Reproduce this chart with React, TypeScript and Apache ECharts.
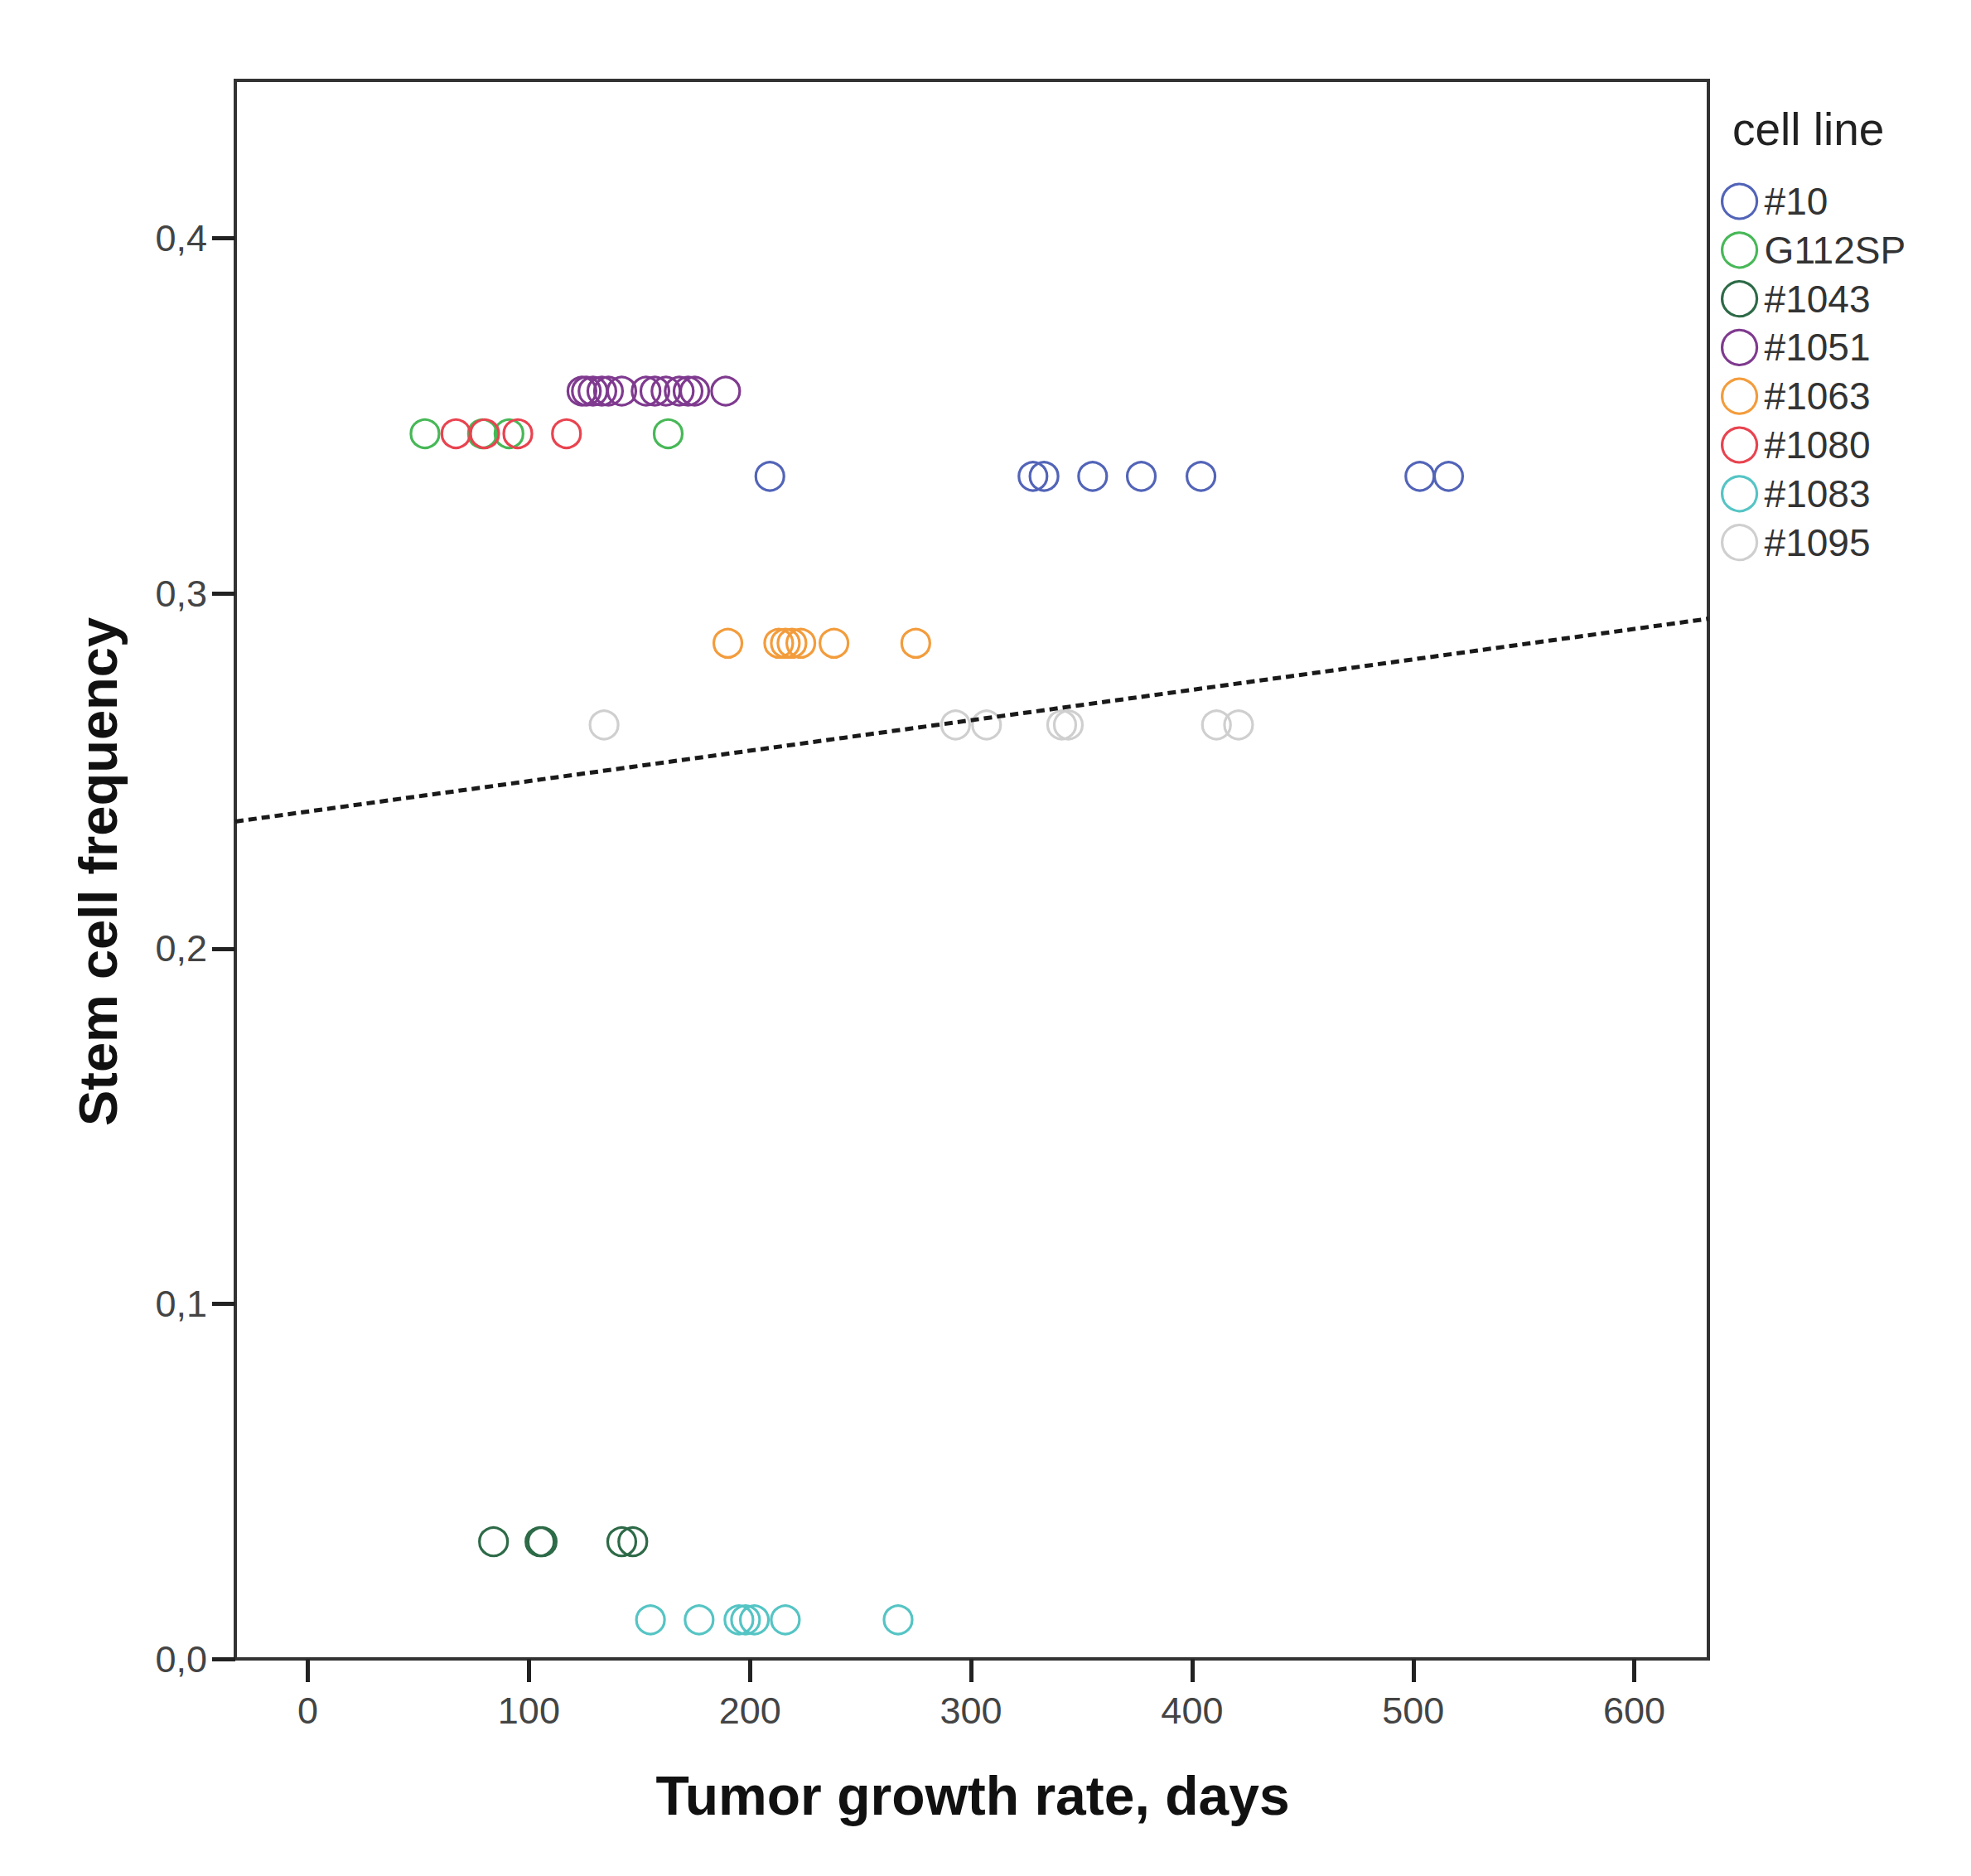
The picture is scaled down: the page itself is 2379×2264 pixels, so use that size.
import React, { useEffect, useRef } from "react";
import * as echarts from "echarts";

const cellLines = ["#10", "G112SP", "#1043", "#1051", "#1063", "#1080", "#1083", "#1095"];
const lineColors = ["#5264b8", "#47b857", "#2d6a47", "#7f3a8f", "#f39c3c", "#e9434f", "#55c4c4", "#cfcfcf"];
const stemFreq = [0.333, 0.345, 0.033, 0.357, 0.286, 0.345, 0.011, 0.263];

const growth10 = [209, 328, 333, 355, 377, 404, 503, 516];
const growthG112SP = [53, 79, 91, 163];
const growth1043 = [84, 105, 106, 142, 147];
const growth1051 = [124, 126, 129, 133, 136, 142, 153, 157, 162, 168, 172, 175, 189];
const growth1063 = [190, 213, 216, 219, 223, 238, 275];
const growth1080 = [67, 80, 95, 117];
const growth1083 = [155, 177, 195, 198, 202, 216, 267];
const growth1095 = [134, 293, 307, 341, 344, 411, 421];

const growthByLine = [growth10, growthG112SP, growth1043, growth1051, growth1063, growth1080, growth1083, growth1095];

const fitLineX = [-32.8, 633.5];
const fitLineY = [0.2358, 0.2929];

const xTicks = [0, 100, 200, 300, 400, 500, 600];
const yTicks = [0, 0.1, 0.2, 0.3, 0.4];

const FONT = "'Liberation Sans', Arial, Helvetica, sans-serif";

export default function App() {
  const ref = useRef<HTMLDivElement>(null);

  useEffect(() => {
    if (!ref.current) return;
    const chart = echarts.init(ref.current, undefined, { renderer: "svg" });

    const scatterSeries = cellLines.map((name, i) => ({
      name,
      type: "scatter",
      symbol: "circle",
      symbolSize: 34,
      data: growthByLine[i].map((g) => [g, stemFreq[i]]),
      itemStyle: {
        color: "rgba(0,0,0,0)",
        borderColor: lineColors[i],
        borderWidth: 3.2,
        opacity: 1,
      },
      emphasis: { disabled: true },
      silent: true,
      z: 2,
    }));

    const option = {
      animation: false,
      backgroundColor: "#ffffff",
      grid: {
        left: 284,
        top: 97,
        right: 317,
        bottom: 262,
        show: true,
        borderColor: "#333333",
        borderWidth: 4,
        backgroundColor: "transparent",
      },
      xAxis: {
        type: "value",
        min: -32.8,
        max: 633.5,
        axisLine: { show: true, onZero: false, lineStyle: { color: "#333333", width: 4 } },
        axisTick: {
          show: true,
          length: 28,
          customValues: xTicks,
          lineStyle: { color: "#222222", width: 5 },
        },
        axisLabel: {
          customValues: xTicks,
          margin: 40,
          fontSize: 45,
          color: "#444444",
          fontFamily: FONT,
        },
        splitLine: { show: false },
      },
      yAxis: {
        type: "value",
        min: 0,
        max: 0.4445,
        axisLine: { show: true, onZero: false, lineStyle: { color: "#333333", width: 4 } },
        axisTick: {
          show: true,
          length: 28,
          customValues: yTicks,
          lineStyle: { color: "#222222", width: 5 },
        },
        axisLabel: {
          customValues: yTicks,
          margin: 34,
          fontSize: 45,
          color: "#444444",
          fontFamily: FONT,
          formatter: (v: number) => v.toFixed(1).replace(".", ","),
        },
        splitLine: { show: false },
      },
      legend: {
        orient: "vertical",
        left: 2072,
        top: 215,
        itemWidth: 42,
        itemHeight: 42,
        itemGap: 12.8,
        icon: "circle",
        data: cellLines,
        selectedMode: false,
        itemStyle: { borderWidth: 3.2 },
        textStyle: {
          fontSize: 46,
          color: "#333333",
          fontFamily: FONT,
          padding: [0, 0, 0, 4],
        },
      },
      graphic: [
        {
          type: "text",
          left: 2091,
          top: 128,
          style: {
            text: "cell line",
            fontSize: 55,
            fill: "#222222",
            fontFamily: FONT,
          },
        },
        {
          type: "text",
          x: 1174,
          y: 2167,
          style: {
            text: "Tumor growth rate, days",
            fontSize: 66,
            fontWeight: "bold",
            fill: "#111111",
            fontFamily: FONT,
            align: "center",
            verticalAlign: "middle",
          },
        },
        {
          type: "text",
          x: 118,
          y: 1052,
          rotation: Math.PI / 2,
          style: {
            text: "Stem cell frequency",
            fontSize: 65,
            fontWeight: "bold",
            fill: "#111111",
            fontFamily: FONT,
            align: "center",
            verticalAlign: "middle",
          },
        },
      ],
      series: [
        ...scatterSeries,
        {
          name: "fit",
          type: "line",
          data: fitLineX.map((x, i) => [x, fitLineY[i]]),
          symbol: "none",
          silent: true,
          lineStyle: { type: [10, 6], width: 5, color: "#1a1a1a" },
          z: 3,
        },
      ],
    };

    chart.setOption(option as any);
    return () => chart.dispose();
  }, []);

  return (
    <div
      ref={ref}
      style={{ position: "absolute", left: 0, top: 0, width: 2379, height: 2264 }}
    />
  );
}
